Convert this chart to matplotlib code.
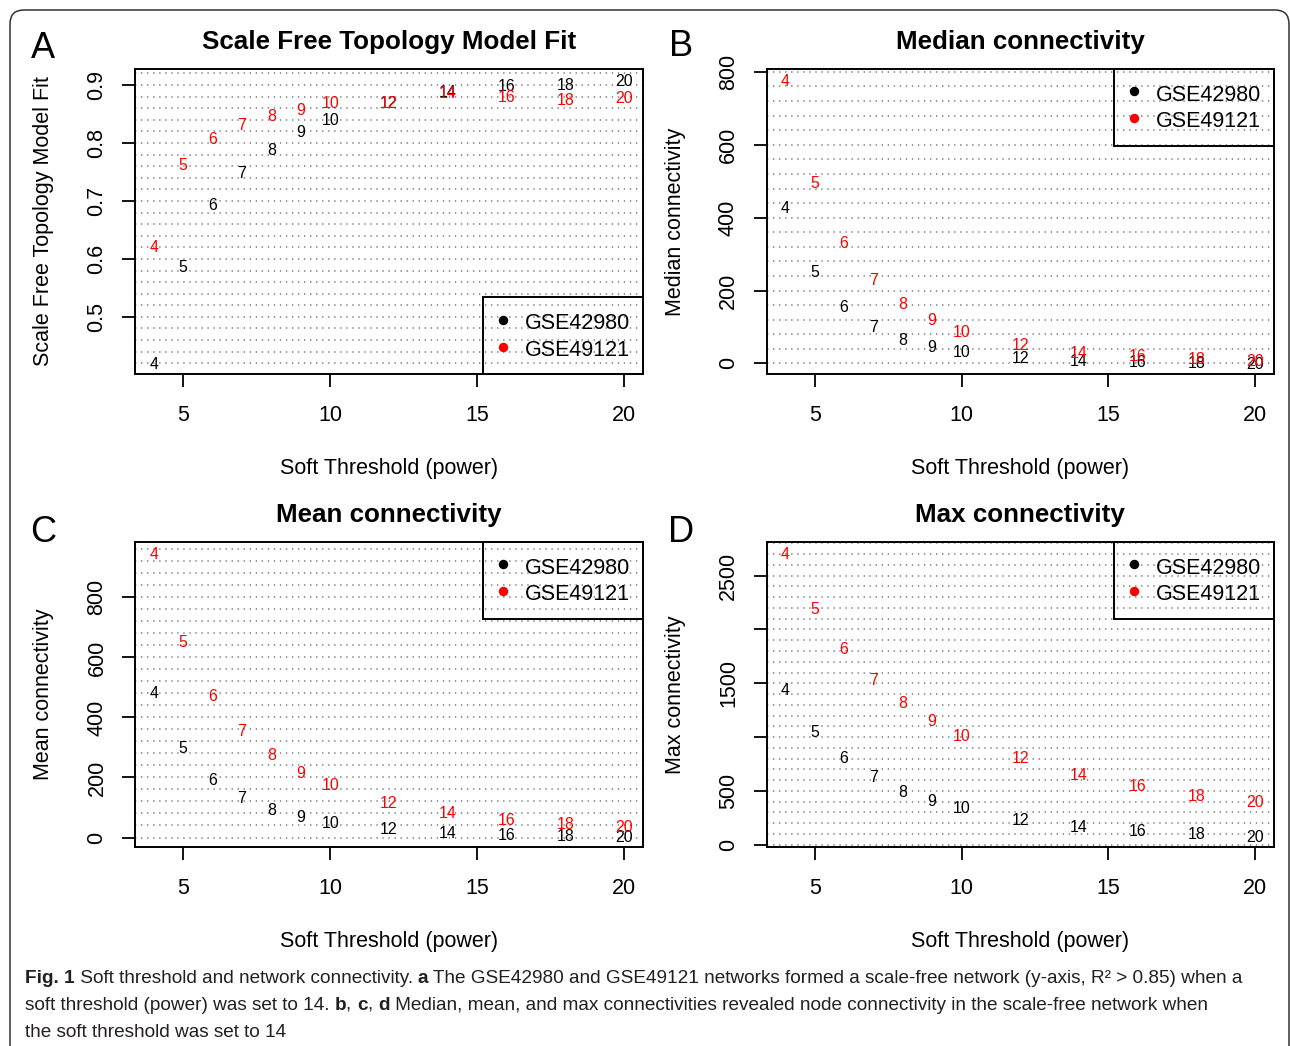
import matplotlib
matplotlib.use("Agg")
import matplotlib.pyplot as plt
import numpy as np
from matplotlib.lines import Line2D
from matplotlib.patches import FancyBboxPatch
from matplotlib.transforms import IdentityTransform
from matplotlib import font_manager

# ---------------- data ----------------
powers = [4, 5, 6, 7, 8, 9, 10, 12, 14, 16, 18, 20]

sft_fit_42980 = [0.421, 0.588, 0.694, 0.749, 0.789, 0.820, 0.841, 0.870, 0.889, 0.900, 0.902, 0.908]
sft_fit_49121 = [0.623, 0.763, 0.808, 0.833, 0.849, 0.859, 0.870, 0.870, 0.887, 0.881, 0.875, 0.880]

median_k_42980 = [430, 253, 157, 102, 67, 47, 33, 18, 9, 6, 4, 2]
median_k_49121 = [777, 498, 334, 231, 165, 121, 89, 53, 31, 22, 15, 9]

mean_k_42980 = [485, 300, 196, 134, 95, 70, 53, 31, 20, 13, 9, 6]
mean_k_49121 = [947, 656, 476, 358, 277, 219, 177, 119, 84, 62, 47, 37]

max_k_42980 = [1446, 1061, 811, 638, 504, 415, 347, 241, 176, 136, 108, 84]
max_k_49121 = [2708, 2198, 1826, 1541, 1325, 1158, 1018, 811, 659, 551, 464, 402]

series_names = ["GSE42980", "GSE49121"]
x_ticks = [5, 10, 15, 20]
x_label = "Soft Threshold (power)"

titles = ["Scale Free Topology Model Fit", "Median connectivity",
          "Mean connectivity", "Max connectivity"]
y_labels = ["Scale Free Topology Model Fit", "Median connectivity",
            "Mean connectivity", "Max connectivity"]
panel_letters = ["A", "B", "C", "D"]

y_ticks_A = [0.5, 0.6, 0.7, 0.8, 0.9]
y_ticklabels_A = ["0.5", "0.6", "0.7", "0.8", "0.9"]
y_ticks_B = [0, 200, 400, 600, 800]
y_ticklabels_B = ["0", "200", "400", "600", "800"]
y_ticks_C = [0, 200, 400, 600, 800]
y_ticklabels_C = ["0", "200", "400", "600", "800"]
y_ticks_D = [0, 500, 1000, 1500, 2000, 2500]
y_ticklabels_D = ["0", "500", "", "1500", "", "2500"]

caption_lines = [
    [("Fig. 1", True), (" Soft threshold and network connectivity. ", False), ("a", True),
     (" The GSE42980 and GSE49121 networks formed a scale-free network (y-axis, R\u00b2 > 0.85) when a", False)],
    [("soft threshold (power) was set to 14. ", False), ("b", True), (", ", False), ("c", True),
     (", ", False), ("d", True),
     (" Median, mean, and max connectivities revealed node connectivity in the scale-free network when", False)],
    [("the soft threshold was set to 14", False)],
]

# ---------------- style ----------------
W, H = 1290, 1046
plt.rcParams["font.family"] = ["Liberation Sans", "DejaVu Sans"]
BASE = 15.5
available = {f.name for f in font_manager.fontManager.ttflist}
cap_family = ["Liberation Sans Narrow"] if "Liberation Sans Narrow" in available else ["Liberation Sans"]

fig = plt.figure(figsize=(W / 100, H / 100), dpi=100)


def px_rect(l, t, r, b):
    return [l / W, 1 - b / H, (r - l) / W, (b - t) / H]


panels = [
    dict(rect=px_rect(135, 69, 643, 374), blk=sft_fit_42980, red=sft_fit_49121,
         yt=y_ticks_A, ytl=y_ticklabels_A, grid=0.02, loc="lower right", letter_xy=(42.5, 44)),
    dict(rect=px_rect(766.5, 69, 1274, 374), blk=median_k_42980, red=median_k_49121,
         yt=y_ticks_B, ytl=y_ticklabels_B, grid=40, loc="upper right", letter_xy=(681.5, 42)),
    dict(rect=px_rect(135, 542, 643, 847), blk=mean_k_42980, red=mean_k_49121,
         yt=y_ticks_C, ytl=y_ticklabels_C, grid=40, loc="upper right", letter_xy=(43, 529)),
    dict(rect=px_rect(766.5, 542, 1274, 847), blk=max_k_42980, red=max_k_49121,
         yt=y_ticks_D, ytl=y_ticklabels_D, grid=100, loc="upper right", letter_xy=(681.5, 529)),
]

colors = ["black", "red"]

for i, p in enumerate(panels):
    ax = fig.add_axes(p["rect"])
    allv = np.array(p["blk"] + p["red"], dtype=float)
    lo, hi = allv.min(), allv.max()
    pad = 0.04 * (hi - lo)
    ax.set_ylim(lo - pad, hi + pad)
    xr = max(powers) - min(powers)
    ax.set_xlim(min(powers) - 0.04 * xr, max(powers) + 0.04 * xr)

    # dotted horizontal grid
    g = p["grid"]
    start = np.ceil((lo - pad) / g - 1e-9) * g
    for yv in np.arange(start, hi + pad + 1e-9, g):
        ax.axhline(yv, color="#7a7a7a", lw=1.1, ls=(0, (0.9, 3.05)),
                   dash_capstyle="butt", zorder=0)

    for vals, col in zip([p["blk"], p["red"]], colors):
        for xv, yv in zip(powers, vals):
            ax.text(xv, yv, str(xv), color=col, fontsize=11.4,
                    ha="center", va="center_baseline", zorder=3)

    ax.set_xticks(x_ticks, [str(v) for v in x_ticks])
    ax.set_yticks(p["yt"], p["ytl"], rotation=90, va="center")
    ax.tick_params(axis="x", direction="out", length=9.1, width=1.3, labelsize=BASE, pad=13.5)
    ax.tick_params(axis="y", direction="out", length=9.1, width=1.3, labelsize=BASE, pad=10.7)
    for s in ax.spines.values():
        s.set_linewidth(1.4)

    ax.set_title(titles[i], fontsize=18.7, fontweight="bold", pad=14.5)
    ax.set_xlabel(x_label, fontsize=BASE)
    ax.set_ylabel(y_labels[i], fontsize=BASE)
    ax.xaxis.set_label_coords(0.5, -95 / 305)
    ax.xaxis.label.set_va("center")
    ax.yaxis.set_label_coords(-91 / 508, 0.5)
    ax.yaxis.label.set_va("center")

    handles = [Line2D([], [], ls="none", marker="o", ms=5.8, color=c) for c in colors]
    leg = ax.legend(handles, series_names, loc=p["loc"], borderaxespad=0, fontsize=BASE,
                    borderpad=0.62, handlelength=0.62, handletextpad=0.68,
                    labelspacing=0.16, handleheight=1.19, fancybox=False,
                    frameon=True, framealpha=1)
    fr = leg.get_frame()
    fr.set_facecolor("none")
    fr.set_edgecolor("black")
    fr.set_linewidth(1.4)

    lx, ly = p["letter_xy"]
    fig.text(lx / W, 1 - ly / H, panel_letters[i], fontsize=26,
             ha="center", va="center_baseline")

# ---------------- caption ----------------
cap_ax = fig.add_axes([0, 0, 1, 1])
cap_ax.axis("off")
cap_fs = 14.5
cap_color = "#231f20"
baselines = [983, 1010, 1037]
cap_texts = []
for line, yb in zip(caption_lines, baselines):
    prev = None
    row = []
    for txt, bold in line:
        kw = dict(fontsize=cap_fs, family=cap_family, color=cap_color,
                  fontweight="bold" if bold else "normal")
        if prev is None:
            prev = cap_ax.text(25 / W, 1 - yb / H, txt, ha="left", va="baseline",
                               transform=fig.transFigure, **kw)
        else:
            prev = cap_ax.annotate(txt, xy=(1, 0), xycoords=prev, ha="left", va="bottom", **kw)
        row.append(prev)
    cap_texts.append(row)

# fit the caption's first line to the width it has in the reference
fig.canvas.draw()
r = fig.canvas.get_renderer()
w1 = cap_texts[0][-1].get_window_extent(r).x1 - cap_texts[0][0].get_window_extent(r).x0
scale = (1252 - 25) / w1
for row in cap_texts:
    for t in row:
        t.set_fontsize(cap_fs * scale)

# outer rounded frame
frame = FancyBboxPatch((10, -40), 1279, H - 10 + 40,
                       boxstyle="round,pad=0,rounding_size=14",
                       transform=IdentityTransform(), fill=False,
                       edgecolor="#333333", lw=1.1)
fig.add_artist(frame)

fig.savefig("out.png", dpi=100)
